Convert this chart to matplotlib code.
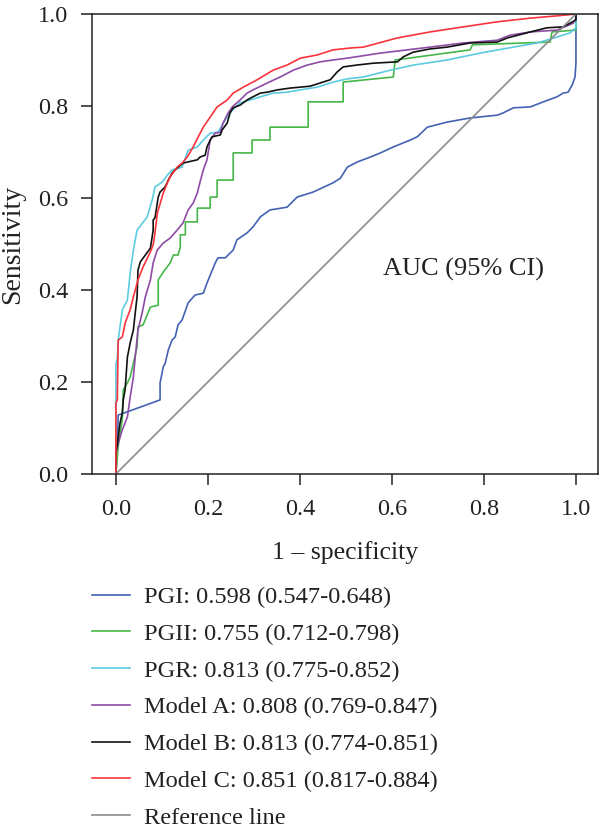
import matplotlib
matplotlib.use('Agg')
import matplotlib.pyplot as plt

# ROC curve points (fpr, tpr)
pgi_fpr = [0, 0.003, 0.005, 0.096, 0.096, 0.103, 0.107, 0.114, 0.122, 0.129, 0.135, 0.144, 0.157,
           0.172, 0.190, 0.198, 0.216, 0.222, 0.238, 0.255, 0.263, 0.285, 0.298, 0.314, 0.335,
           0.372, 0.394, 0.429, 0.472, 0.488, 0.503, 0.524, 0.553, 0.575, 0.603, 0.640, 0.655,
           0.677, 0.720, 0.770, 0.829, 0.842, 0.864, 0.901, 0.929, 0.959, 0.972, 0.983, 0.992,
           0.998, 1.0, 1.0]
pgi_tpr = [0, 0.06, 0.128, 0.161, 0.198, 0.233, 0.240, 0.270, 0.291, 0.298, 0.324, 0.335, 0.372,
           0.389, 0.393, 0.415, 0.459, 0.470, 0.470, 0.487, 0.509, 0.524, 0.537, 0.559, 0.574,
           0.580, 0.602, 0.613, 0.633, 0.643, 0.667, 0.678, 0.689, 0.698, 0.711, 0.726, 0.733,
           0.754, 0.765, 0.774, 0.780, 0.785, 0.796, 0.798, 0.809, 0.820, 0.828, 0.830, 0.846,
           0.863, 0.893, 1.0]

pgii_fpr = [0, 0.005, 0.014, 0.016, 0.025, 0.031, 0.038, 0.046, 0.048, 0.059, 0.075, 0.092, 0.092,
            0.103, 0.118, 0.125, 0.135, 0.140, 0.140, 0.151, 0.151, 0.177, 0.177, 0.205, 0.205,
            0.220, 0.220, 0.255, 0.255, 0.296, 0.296, 0.335, 0.335, 0.418, 0.418, 0.494, 0.494,
            0.603, 0.607, 0.770, 0.775, 0.944, 0.948, 1.0, 1.0]
pgii_tpr = [0, 0.06, 0.12, 0.183, 0.198, 0.211, 0.241, 0.276, 0.320, 0.324, 0.363, 0.367, 0.422,
            0.439, 0.459, 0.476, 0.476, 0.493, 0.520, 0.520, 0.548, 0.548, 0.578, 0.578, 0.602,
            0.602, 0.639, 0.639, 0.698, 0.698, 0.726, 0.726, 0.754, 0.754, 0.809, 0.809, 0.852,
            0.863, 0.900, 0.922, 0.933, 0.939, 0.961, 0.965, 1.0]

pgr_fpr = [0, 0, 0.003, 0.005, 0.014, 0.025, 0.031, 0.038, 0.046, 0.068, 0.079, 0.085, 0.101,
           0.112, 0.122, 0.144, 0.157, 0.177, 0.190, 0.205, 0.222, 0.238, 0.253, 0.270, 0.292,
           0.314, 0.342, 0.372, 0.401, 0.438, 0.472, 0.503, 0.538, 0.597, 0.647, 0.720, 0.792,
           0.864, 0.916, 0.959, 0.987, 1.0, 1.0]
pgr_tpr = [0, 0.24, 0.25, 0.291, 0.357, 0.378, 0.437, 0.487, 0.530, 0.559, 0.596, 0.624, 0.635,
           0.650, 0.661, 0.667, 0.704, 0.711, 0.726, 0.741, 0.743, 0.770, 0.791, 0.807, 0.813,
           0.820, 0.828, 0.830, 0.835, 0.841, 0.852, 0.859, 0.863, 0.878, 0.889, 0.900, 0.915,
           0.928, 0.937, 0.950, 0.959, 0.970, 1.0]

ma_fpr = [0, 0, 0.005, 0.014, 0.025, 0.031, 0.038, 0.042, 0.048, 0.057, 0.064, 0.075, 0.081,
          0.090, 0.103, 0.118, 0.133, 0.146, 0.157, 0.168, 0.177, 0.183, 0.190, 0.198, 0.205,
          0.216, 0.227, 0.233, 0.244, 0.253, 0.270, 0.285, 0.298, 0.329, 0.357, 0.386, 0.416,
          0.444, 0.472, 0.503, 0.575, 0.683, 0.755, 0.829, 0.857, 0.901, 0.959, 0.994, 1.0, 1.0]
ma_tpr = [0, 0.045, 0.067, 0.096, 0.124, 0.167, 0.211, 0.254, 0.313, 0.350, 0.385, 0.422, 0.459,
          0.487, 0.502, 0.513, 0.530, 0.546, 0.574, 0.589, 0.611, 0.635, 0.661, 0.683, 0.726,
          0.741, 0.743, 0.763, 0.785, 0.798, 0.813, 0.828, 0.835, 0.850, 0.863, 0.878, 0.889,
          0.896, 0.900, 0.904, 0.915, 0.928, 0.937, 0.943, 0.954, 0.961, 0.965, 0.980, 0.991, 1.0]

mb_fpr = [0, 0, 0.003, 0.005, 0.009, 0.014, 0.016, 0.020, 0.025, 0.031, 0.038, 0.042, 0.046,
          0.048, 0.053, 0.064, 0.075, 0.081, 0.081, 0.085, 0.092, 0.096, 0.107, 0.114, 0.122,
          0.133, 0.146, 0.155, 0.177, 0.183, 0.194, 0.198, 0.205, 0.209, 0.227, 0.231, 0.242,
          0.248, 0.255, 0.270, 0.285, 0.298, 0.314, 0.329, 0.351, 0.379, 0.401, 0.422, 0.444,
          0.466, 0.481, 0.494, 0.524, 0.559, 0.612, 0.625, 0.646, 0.683, 0.720, 0.770, 0.829,
          0.851, 0.901, 0.937, 0.972, 1.0, 1.0]
mb_tpr = [0, 0.05, 0.063, 0.080, 0.111, 0.133, 0.161, 0.183, 0.254, 0.285, 0.313, 0.350, 0.385,
          0.443, 0.461, 0.476, 0.491, 0.530, 0.552, 0.557, 0.602, 0.613, 0.624, 0.639, 0.654,
          0.665, 0.676, 0.678, 0.683, 0.689, 0.693, 0.711, 0.726, 0.733, 0.737, 0.748, 0.763,
          0.785, 0.796, 0.802, 0.813, 0.820, 0.828, 0.830, 0.835, 0.839, 0.841, 0.843, 0.850,
          0.857, 0.874, 0.885, 0.889, 0.893, 0.896, 0.907, 0.917, 0.924, 0.928, 0.937, 0.939,
          0.948, 0.961, 0.970, 0.972, 0.987, 1.0]

mc_fpr = [0, 0, 0.003, 0.005, 0.014, 0.020, 0.031, 0.038, 0.048, 0.059, 0.075, 0.081, 0.085,
          0.090, 0.103, 0.112, 0.118, 0.133, 0.144, 0.155, 0.168, 0.179, 0.190, 0.205, 0.220,
          0.242, 0.255, 0.277, 0.307, 0.342, 0.372, 0.401, 0.438, 0.472, 0.509, 0.538, 0.612,
          0.683, 0.755, 0.829, 0.901, 0.959, 1.0]
mc_tpr = [0, 0.154, 0.161, 0.291, 0.298, 0.328, 0.357, 0.385, 0.422, 0.450, 0.483, 0.498, 0.524,
          0.567, 0.611, 0.633, 0.646, 0.667, 0.676, 0.689, 0.711, 0.733, 0.754, 0.776, 0.798,
          0.813, 0.828, 0.841, 0.857, 0.878, 0.889, 0.904, 0.911, 0.922, 0.926, 0.928, 0.948,
          0.961, 0.972, 0.983, 0.991, 0.996, 1.0]

labels = ['PGI: 0.598 (0.547-0.648)', 'PGII: 0.755 (0.712-0.798)', 'PGR: 0.813 (0.775-0.852)',
          'Model A: 0.808 (0.769-0.847)', 'Model B: 0.813 (0.774-0.851)',
          'Model C: 0.851 (0.817-0.884)', 'Reference line']
colors = ['#4462b4', '#46b649', '#5ccbe0', '#8d4ba5', '#111111', '#f8333c', '#8c8c8c']

plt.rcParams['font.family'] = ['Liberation Serif', 'DejaVu Serif']

fig = plt.figure(figsize=(6, 8.33), dpi=100)
ax = fig.add_axes([0.1533, 0.431, 0.8434, 0.5522])

curves = [(pgi_fpr, pgi_tpr), (pgii_fpr, pgii_tpr), (pgr_fpr, pgr_tpr),
          (ma_fpr, ma_tpr), (mb_fpr, mb_tpr), (mc_fpr, mc_tpr)]
handles = []
for (fx, ty), c, lab in zip(curves, colors, labels):
    h, = ax.plot(fx, ty, color=c, lw=1.2, label=lab)
    handles.append(h)
h, = ax.plot([0, 1], [0, 1], color=colors[-1], lw=1.2, label=labels[-1])
handles.append(h)

ax.set_xlim(-0.052, 1.048)
ax.set_ylim(0, 1)
ax.set_xticks([0, 0.2, 0.4, 0.6, 0.8, 1.0])
ax.set_yticks([0, 0.2, 0.4, 0.6, 0.8, 1.0])
ax.xaxis.set_major_formatter(matplotlib.ticker.FormatStrFormatter('%.1f'))
ax.yaxis.set_major_formatter(matplotlib.ticker.FormatStrFormatter('%.1f'))
ax.tick_params(axis='both', direction='out', length=8, width=1.1, labelsize=17.5,
               color='#222222', labelcolor='#222222')
ax.tick_params(axis='x', pad=10)
ax.tick_params(axis='y', pad=9)
for s in ax.spines.values():
    s.set_linewidth(1.1)
    s.set_color('#222222')

ax.set_xlabel('1 – specificity', fontsize=18.5, labelpad=15, color='#222222')
ax.set_ylabel('Sensitivity', fontsize=20, labelpad=9, color='#222222')
ax.text(0.58, 0.445, 'AUC (95% CI)', fontsize=19, va='center', ha='left', color='#222222')

leg = fig.legend(handles=handles, loc='upper left', bbox_to_anchor=(0.153, 1 - 586 / 833),
                 frameon=False, fontsize=17.6, handlelength=1.55, handletextpad=0.6,
                 labelspacing=0.6, borderpad=0, borderaxespad=0)
for t in leg.get_texts():
    t.set_color('#222222')

fig.savefig('out.png', dpi=100)
